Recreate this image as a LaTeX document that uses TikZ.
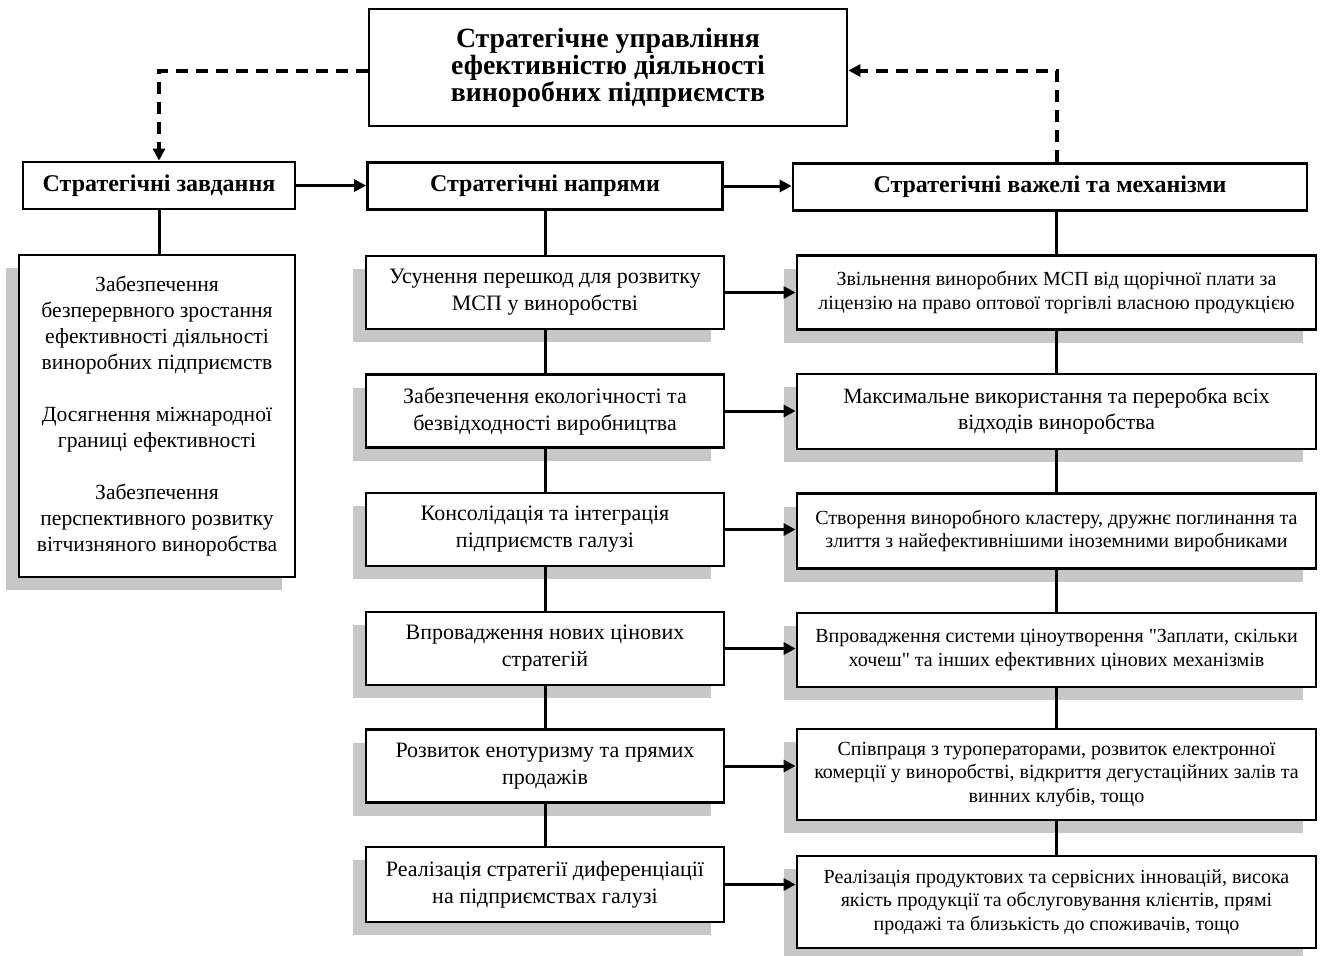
\documentclass[tikz,border=0pt]{standalone}
\usepackage{fontspec}
\setmainfont{Liberation Serif}[Ligatures=TeXOff]
\usetikzlibrary{arrows.meta,positioning,shadows}

\begin{document}
\begin{tikzpicture}[x=0.5pt,y=-0.5pt]

\tikzset{
  plain/.style={draw, line width=1.4pt, fill=white, align=center, inner sep=1pt},
  box/.style={plain, drop shadow={shadow xshift=-6.5pt, shadow yshift=-6.5pt, fill=black!22, opacity=1}},
  head/.style={plain, minimum height=23.5pt, font=\bfseries\fontsize{12}{13.5}\selectfont},
  midbox/.style={box, minimum width=179pt, minimum height=36.5pt, font=\fontsize{11}{13.5}\selectfont},
  rightbox/.style={box, minimum width=259.5pt, minimum height=37pt, font=\fontsize{10}{11.7}\selectfont},
  link/.style={line width=1.5pt},
  flow/.style={line width=1.5pt, -{Triangle[length=6pt,width=6pt]}},
  feedback/.style={line width=2pt, dash pattern=on 6pt off 4pt, -{Triangle[length=6pt,width=6pt]}}
}

\useasboundingbox (0,0) rectangle (1320,955);

% top
\node[plain, minimum width=239pt, minimum height=58.5pt,
      font=\bfseries\fontsize{13.9}{13.5}\selectfont] (top) at (608,67.5)
  {Стратегічне управління\\ефективністю діяльності\\виноробних підприємств};

% headers
\node[head, minimum width=136pt] (tasks) at (159,185.5) {Стратегічні завдання};
\node[head, minimum width=177.5pt] (dirs) at (545,186) {Стратегічні напрями};
\node[head, minimum width=257pt] (levers) at (1050,187) {Стратегічні важелі та механізми};

% tasks
\node[box, minimum width=138pt, minimum height=161pt,
      font=\fontsize{10.8}{13}\selectfont] (goals) at (157,416)
  {Забезпечення\\безперервного зростання\\ефективності діяльності\\виноробних підприємств\\[13pt]
   Досягнення міжнародної\\границі ефективності\\[13pt]
   Забезпечення\\перспективного розвитку\\вітчизняного виноробства};

% directions
\node[midbox] (d1) at (545,292.5) {Усунення перешкод для розвитку\\МСП у виноробстві};
\node[midbox] (d2) at (545,411) {Забезпечення екологічності та\\безвідходності виробництва};
\node[midbox] (d3) at (545,529.5) {Консолідація та інтеграція\\підприємств галузі};
\node[midbox] (d4) at (545,648.5) {Впровадження нових цінових\\стратегій};
\node[midbox] (d5) at (545,766) {Розвиток енотуризму та прямих\\продажів};
\node[midbox, minimum height=37.5pt] (d6) at (545,884.5) {Реалізація стратегії диференціації\\на підприємствах галузі};

% levers
\node[rightbox] (l1) at (1056.5,292.5)
  {Звільнення виноробних МСП від щорічної плати за\\ліцензію на право оптової торгівлі власною продукцією};
\node[rightbox, minimum height=37.5pt, font=\fontsize{10.9}{13}\selectfont] (l2) at (1056.5,411.5)
  {Максимальне використання та переробка всіх\\відходів виноробства};
\node[rightbox, minimum height=37.5pt] (l3) at (1056.5,531)
  {Створення виноробного кластеру, дружнє поглинання та\\злиття з найефективнішими іноземними виробниками};
\node[rightbox] (l4) at (1056.5,650)
  {Впровадження системи ціноутворення "Заплати, скільки\\хочеш" та інших ефективних цінових механізмів};
\node[rightbox, minimum height=45.5pt] (l5) at (1056.5,774.5)
  {Співпраця з туроператорами, розвиток електронної\\комерції у виноробстві, відкриття дегустаційних залів та\\винних клубів, тощо};
\node[rightbox, minimum height=46pt] (l6) at (1056.5,902)
  {Реалізація продуктових та сервісних інновацій, висока\\якість продукції та обслуговування клієнтів, прямі\\продажі та близькість до споживачів, тощо};

% feedback loop
\draw[feedback] ([yshift=-1.5pt]top.west) -| (tasks.north);
\draw[feedback] (l1.north |- levers.north) |- ([yshift=-1.5pt]top.east);

% header flow
\draw[flow] (tasks.east) -- (tasks.east -| dirs.west);
\draw[flow] (dirs.east) -- (dirs.east -| levers.west);

% columns
\draw[link] (tasks.south) -- (tasks.south |- goals.north);
\draw[link] (dirs) -- (d1) -- (d2) -- (d3) -- (d4) -- (d5) -- (d6);
\draw[link] (l1.north |- levers.south) -- (l1.north);
\draw[link] (l1) -- (l2) -- (l3) -- (l4) -- (l5) -- (l6);

% directions to levers
\draw[flow] (d1.east) -- (d1.east -| l1.west);
\draw[flow] (d2.east) -- (d2.east -| l2.west);
\draw[flow] (d3.east) -- (d3.east -| l3.west);
\draw[flow] (d4.east) -- (d4.east -| l4.west);
\draw[flow] (d5.east) -- (d5.east -| l5.west);
\draw[flow] (d6.east) -- (d6.east -| l6.west);

\end{tikzpicture}
\end{document}
